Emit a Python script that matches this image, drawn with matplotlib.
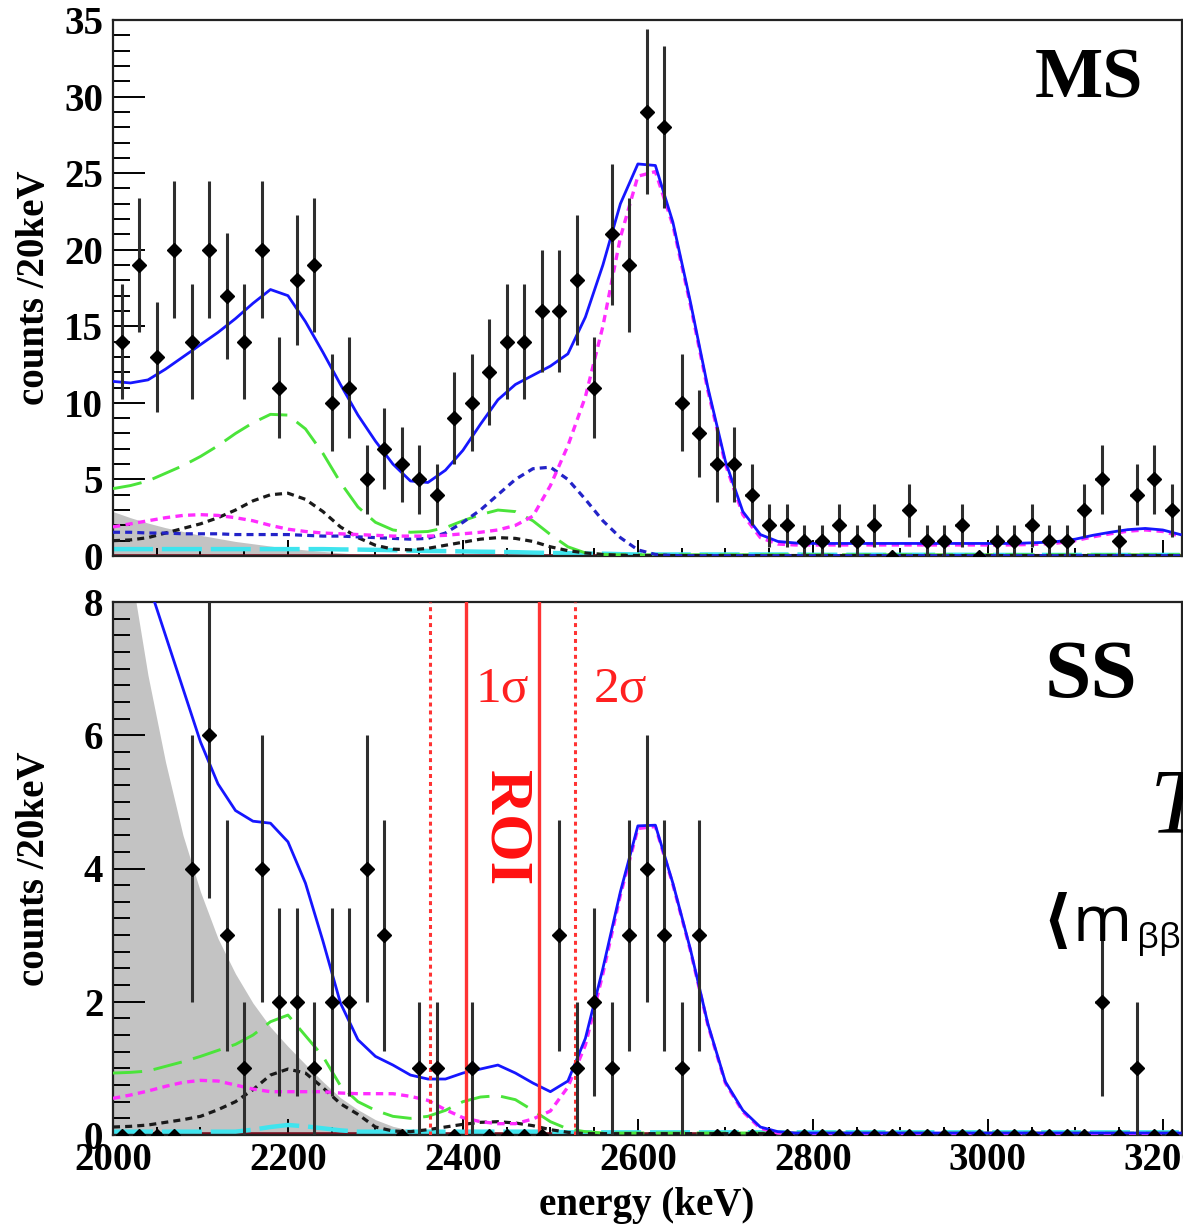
import numpy as np
import matplotlib
matplotlib.use("Agg")
import matplotlib.pyplot as plt
from matplotlib.ticker import MultipleLocator

# ---------------- data ----------------
bin_centers = list(range(2010, 3220, 20))          # 20 keV bins
ms_counts = [14, 19, 13, 20, 14, 20, 17, 14, 20, 11,
             18, 19, 10, 11, 5, 7, 6, 5, 4, 9,
             10, 12, 14, 14, 16, 16, 18, 11, 21, 19,
             29, 28, 10, 8, 6, 6, 4, 2, 2, 1,
             1, 2, 1, 2, 0, 3, 1, 1, 2, 0,
             1, 1, 2, 1, 1, 3, 5, 1, 4, 5, 3]
ss_counts = [0, 0, 0, 0, 4, 6, 3, 1, 4, 2,
             2, 1, 2, 2, 4, 3, 0, 1, 1, 0,
             1, 0, 0, 0, 0, 3, 1, 2, 1, 3,
             4, 3, 1, 3, 0, 0, 0, 0, 0, 0,
             0, 0, 0, 0, 0, 0, 0, 0, 0, 0,
             0, 0, 0, 0, 0, 0, 2, 0, 1, 0, 0]

fit_energy = list(range(2000, 3240, 20))           # fit curve nodes

# MS fit components
ms_total = [11.4, 11.3, 11.5, 12.2, 13.0, 13.8, 14.6, 15.5, 16.5, 17.4,
            17.0, 15.3, 13.3, 11.2, 9.2, 7.5, 6.0, 4.9, 4.8, 5.6,
            6.9, 8.6, 10.2, 11.2, 11.8, 12.4, 13.2, 15.6, 19.0, 23.0,
            25.6, 25.5, 21.8, 16.6, 11.0, 6.2, 2.9, 1.4, 0.95, 0.85,
            0.82, 0.82, 0.82, 0.82, 0.82, 0.82, 0.82, 0.82, 0.82, 0.82,
            0.82, 0.82, 0.84, 0.88, 0.95, 1.1, 1.35, 1.55, 1.72, 1.8,
            1.7, 1.4]
ms_tl208 = [1.9, 2.1, 2.3, 2.5, 2.65, 2.7, 2.65, 2.5, 2.3, 2.0,
            1.75, 1.6, 1.5, 1.45, 1.4, 1.35, 1.3, 1.3, 1.3, 1.35,
            1.45, 1.55, 1.7, 2.0, 2.6, 4.6, 7.2, 10.4, 15.0, 20.8,
            24.8, 25.1, 21.6, 16.4, 10.8, 6.0, 2.7, 1.2, 0.78, 0.72,
            0.72, 0.72, 0.72, 0.72, 0.72, 0.72, 0.72, 0.72, 0.72, 0.72,
            0.72, 0.72, 0.74, 0.78, 0.85, 1.0, 1.25, 1.45, 1.62, 1.7,
            1.6, 1.3]
ms_navy = [1.55, 1.55, 1.5, 1.5, 1.45, 1.45, 1.45, 1.4, 1.4, 1.4,
           1.4, 1.35, 1.3, 1.3, 1.25, 1.2, 1.15, 1.1, 1.15, 1.5,
           2.2, 3.0, 4.0, 5.0, 5.7, 5.8, 5.0, 3.7, 2.3, 1.2,
           0.4, 0.1, 0.03, 0.02, 0.02, 0.02, 0.02, 0.02, 0.02, 0.02,
           0.02, 0.02, 0.02, 0.02, 0.02, 0.02, 0.02, 0.02, 0.02, 0.02,
           0.02, 0.02, 0.02, 0.02, 0.02, 0.02, 0.02, 0.02, 0.02, 0.02,
           0.02, 0.02]
ms_black = [1.0, 1.05, 1.2, 1.5, 1.8, 2.1, 2.5, 3.0, 3.6, 4.0,
            4.1, 3.7, 2.9, 1.9, 1.2, 0.7, 0.45, 0.4, 0.5, 0.7,
            0.9, 1.1, 1.2, 1.15, 0.95, 0.6, 0.35, 0.2, 0.1, 0.05,
            0.03, 0.03, 0.03, 0.03, 0.03, 0.03, 0.03, 0.03, 0.03, 0.03,
            0.03, 0.03, 0.03, 0.03, 0.03, 0.03, 0.03, 0.03, 0.03, 0.03,
            0.03, 0.03, 0.03, 0.03, 0.03, 0.03, 0.03, 0.03, 0.03, 0.03,
            0.03, 0.03]
ms_green = [4.4, 4.6, 4.9, 5.4, 5.9, 6.5, 7.2, 8.0, 8.7, 9.25,
            9.2, 8.3, 6.7, 4.8, 3.2, 2.2, 1.7, 1.55, 1.6, 1.85,
            2.3, 2.7, 3.0, 2.9, 2.3, 1.4, 0.6, 0.2, 0.1, 0.08,
            0.08, 0.08, 0.08, 0.08, 0.08, 0.08, 0.08, 0.08, 0.08, 0.08,
            0.08, 0.08, 0.08, 0.08, 0.08, 0.08, 0.08, 0.08, 0.08, 0.08,
            0.08, 0.08, 0.08, 0.08, 0.08, 0.08, 0.08, 0.08, 0.08, 0.08,
            0.08, 0.08]
ms_cyan = [0.45, 0.45, 0.45, 0.45, 0.45, 0.45, 0.45, 0.45, 0.45, 0.45,
           0.45, 0.45, 0.45, 0.43, 0.42, 0.4, 0.38, 0.35, 0.33, 0.32,
           0.3, 0.28, 0.27, 0.25, 0.22, 0.2, 0.18, 0.16, 0.15, 0.12,
           0.1, 0.1, 0.1, 0.1, 0.1, 0.1, 0.1, 0.1, 0.1, 0.1,
           0.08, 0.08, 0.08, 0.08, 0.08, 0.08, 0.08, 0.08, 0.08, 0.08,
           0.07, 0.07, 0.07, 0.07, 0.07, 0.07, 0.07, 0.07, 0.07, 0.07,
           0.07, 0.07]
ms_gray = [2.9, 2.5, 2.15, 1.85, 1.6, 1.35, 1.15, 0.95, 0.8, 0.65,
           0.5, 0.4, 0.3, 0.2, 0.12, 0.05, 0.0, 0.0, 0.0, 0.0,
           0.0, 0.0, 0.0, 0.0, 0.0, 0.0, 0.0, 0.0, 0.0, 0.0,
           0.0, 0.0, 0.0, 0.0, 0.0, 0.0, 0.0, 0.0, 0.0, 0.0,
           0.0, 0.0, 0.0, 0.0, 0.0, 0.0, 0.0, 0.0, 0.0, 0.0,
           0.0, 0.0, 0.0, 0.0, 0.0, 0.0, 0.0, 0.0, 0.0, 0.0,
           0.0, 0.0]

# SS fit components
ss_total = [10.8, 9.4, 8.3, 7.5, 6.7, 5.9, 5.27, 4.87, 4.71, 4.68,
            4.4, 3.78, 2.91, 1.98, 1.43, 1.18, 1.05, 0.9, 0.84, 0.84,
            0.93, 0.99, 1.05, 0.93, 0.78, 0.65, 0.81, 1.45, 2.5, 3.65,
            4.64, 4.65, 3.78, 2.79, 1.67, 0.8, 0.37, 0.12, 0.05, 0.03,
            0.03, 0.03, 0.03, 0.03, 0.03, 0.03, 0.03, 0.03, 0.03, 0.03,
            0.03, 0.03, 0.03, 0.03, 0.03, 0.03, 0.03, 0.03, 0.03, 0.03,
            0.03, 0.03]
ss_tl208 = [0.55, 0.6, 0.66, 0.73, 0.79, 0.82, 0.81, 0.75, 0.69, 0.65,
            0.65, 0.65, 0.65, 0.63, 0.62, 0.62, 0.62, 0.58, 0.52, 0.38,
            0.26, 0.2, 0.17, 0.17, 0.24, 0.36, 0.72, 1.35, 2.42, 3.6,
            4.6, 4.63, 3.76, 2.77, 1.65, 0.78, 0.35, 0.1, 0.03, 0.02,
            0.02, 0.02, 0.02, 0.02, 0.02, 0.02, 0.02, 0.02, 0.02, 0.02,
            0.02, 0.02, 0.02, 0.02, 0.02, 0.02, 0.02, 0.02, 0.02, 0.02,
            0.02, 0.02]
ss_green = [0.93, 0.94, 0.96, 1.03, 1.1, 1.18, 1.27, 1.36, 1.5, 1.7,
            1.8, 1.49, 1.18, 0.74, 0.5, 0.37, 0.28, 0.25, 0.28, 0.37,
            0.5, 0.57, 0.59, 0.53, 0.37, 0.2, 0.09, 0.05, 0.03, 0.03,
            0.03, 0.03, 0.03, 0.03, 0.03, 0.03, 0.03, 0.03, 0.03, 0.03,
            0.03, 0.03, 0.03, 0.03, 0.03, 0.03, 0.03, 0.03, 0.03, 0.03,
            0.03, 0.03, 0.03, 0.03, 0.03, 0.03, 0.03, 0.03, 0.03, 0.03,
            0.03, 0.03]
ss_black = [0.12, 0.13, 0.15, 0.19, 0.23, 0.28, 0.38, 0.5, 0.68, 0.9,
            0.99, 0.93, 0.71, 0.47, 0.31, 0.12, 0.06, 0.05, 0.08, 0.12,
            0.16, 0.19, 0.2, 0.18, 0.14, 0.08, 0.04, 0.02, 0.02, 0.02,
            0.02, 0.02, 0.02, 0.02, 0.02, 0.02, 0.02, 0.02, 0.02, 0.02,
            0.02, 0.02, 0.02, 0.02, 0.02, 0.02, 0.02, 0.02, 0.02, 0.02,
            0.02, 0.02, 0.02, 0.02, 0.02, 0.02, 0.02, 0.02, 0.02, 0.02,
            0.02, 0.02]
ss_cyan = [0.05, 0.05, 0.05, 0.05, 0.05, 0.05, 0.05, 0.05, 0.08, 0.12,
           0.15, 0.13, 0.1, 0.07, 0.05, 0.05, 0.05, 0.05, 0.05, 0.05,
           0.05, 0.05, 0.05, 0.05, 0.05, 0.05, 0.04, 0.04, 0.04, 0.04,
           0.04, 0.04, 0.04, 0.04, 0.04, 0.04, 0.04, 0.04, 0.04, 0.04,
           0.04, 0.04, 0.04, 0.04, 0.04, 0.04, 0.04, 0.04, 0.04, 0.04,
           0.04, 0.04, 0.04, 0.04, 0.04, 0.04, 0.04, 0.04, 0.04, 0.04,
           0.04, 0.04]
ss_gray = [10.6, 8.5, 6.9, 5.6, 4.5, 3.65, 2.95, 2.42, 1.98, 1.62,
           1.33, 1.06, 0.8, 0.56, 0.38, 0.23, 0.13, 0.07, 0.03, 0.0,
           0.0, 0.0, 0.0, 0.0, 0.0, 0.0, 0.0, 0.0, 0.0, 0.0,
           0.0, 0.0, 0.0, 0.0, 0.0, 0.0, 0.0, 0.0, 0.0, 0.0,
           0.0, 0.0, 0.0, 0.0, 0.0, 0.0, 0.0, 0.0, 0.0, 0.0,
           0.0, 0.0, 0.0, 0.0, 0.0, 0.0, 0.0, 0.0, 0.0, 0.0,
           0.0, 0.0]
# near-zero component drawn as dark red baseline
maroon_comp = [0.02, 0.02, 0.02, 0.02, 0.02, 0.02, 0.02, 0.02, 0.02, 0.02,
               0.02, 0.02, 0.02, 0.02, 0.02, 0.02, 0.02, 0.02, 0.02, 0.02,
               0.02, 0.02, 0.02, 0.02, 0.02, 0.02, 0.02, 0.02, 0.02, 0.02,
               0.02, 0.02, 0.02, 0.02, 0.02, 0.02, 0.02, 0.02, 0.02, 0.02,
               0.02, 0.02, 0.02, 0.02, 0.02, 0.02, 0.02, 0.02, 0.02, 0.02,
               0.02, 0.02, 0.02, 0.02, 0.02, 0.02, 0.02, 0.02, 0.02, 0.02,
               0.02, 0.02]

roi_1sigma = [2404, 2487]
roi_2sigma = [2362, 2528]

# ---------------- style ----------------
plt.rcParams["font.family"] = ["Liberation Serif", "DejaVu Serif"]
plt.rcParams["font.weight"] = "bold"
plt.rcParams["font.size"] = 28

W, H = 1183, 1224
fig = plt.figure(figsize=(W / 100, H / 100), dpi=100)


def px_rect(l, t, r, b):
    return [l / W, 1 - b / H, (r - l) / W, (b - t) / H]


ax1 = fig.add_axes(px_rect(113, 20, 1182, 556))
ax2 = fig.add_axes(px_rect(113, 602, 1182, 1135))


def draw_panel(ax, gray, total, tl, navy, black, green, cyan, counts, ymax, ymaj, ymin):
    ax.fill_between(fit_energy, 0, gray, color="#c3c3c3", lw=0, zorder=1)
    ax.plot(fit_energy, maroon_comp, color="#7a1020", lw=2.6, zorder=2)
    ax.plot(fit_energy, cyan, color="#3fe4ee", lw=3.2, ls=(0, (9, 2)), zorder=2)
    ax.plot(fit_energy, green, color="#4be43a", lw=2.1, ls=(0, (10, 4)), zorder=3)
    ax.plot(fit_energy, black, color="#1a1a1a", lw=2.3, ls=(0, (2.2, 1.6)), zorder=3)
    if navy is not None:
        ax.plot(fit_energy, navy, color="#2323c8", lw=2.3, ls=(0, (2.2, 1.6)), zorder=3)
    ax.plot(fit_energy, tl, color="#ff2cff", lw=2.4, ls=(0, (2.2, 1.6)), zorder=3)
    ax.plot(fit_energy, total, color="#1616ff", lw=2.0, zorder=4)

    x = np.array(bin_centers, dtype=float)
    y = np.array(counts, dtype=float)
    nz = y > 0
    ax.errorbar(x[nz], y[nz], yerr=np.sqrt(y[nz]), xerr=7, fmt="D", ms=7,
                color="black", ecolor="#2e2e2e", elinewidth=2.2, capsize=0, zorder=6)
    ax.plot(x[~nz], y[~nz], "D", ms=6, color="black", zorder=6)

    ax.set_xlim(2000, 3222)
    ax.set_ylim(0, ymax)
    ax.xaxis.set_major_locator(MultipleLocator(200))
    ax.xaxis.set_minor_locator(MultipleLocator(50))
    ax.yaxis.set_major_locator(MultipleLocator(ymaj))
    ax.yaxis.set_minor_locator(MultipleLocator(ymin))
    ax.tick_params(which="both", direction="in", top=False, right=False,
                   width=1.4, color="black")
    ax.tick_params(axis="x", which="major", length=11.5, pad=5, labelsize=28)
    ax.tick_params(axis="x", which="minor", length=5.5)
    ax.tick_params(axis="y", which="major", length=23, pad=7, labelsize=28)
    ax.tick_params(axis="y", which="minor", length=12)
    for s in ax.spines.values():
        s.set_linewidth(1.6)
        s.set_color("#222222")


draw_panel(ax1, ms_gray, ms_total, ms_tl208, ms_navy, ms_black, ms_green, ms_cyan,
           ms_counts, 35, 5, 1)
draw_panel(ax2, ss_gray, ss_total, ss_tl208, None, ss_black, ss_green, ss_cyan,
           ss_counts, 8, 2, 0.25)
ax1.tick_params(labelbottom=False)

# ROI lines
for e in roi_1sigma:
    ax2.axvline(e, color="#ff3333", lw=2.4, zorder=5)
for e in roi_2sigma:
    ax2.axvline(e, color="#ff3333", lw=2.2, ls=(0, (1.3, 1.3)), zorder=5)
ax2.text(sum(roi_1sigma) / 2, 6.5, "1σ", color="#ff2020", fontsize=37,
         fontweight="normal", ha="center", va="baseline", zorder=7)
ax2.text(2580, 6.5, "2σ", color="#ff2020", fontsize=37,
         fontweight="normal", ha="center", va="baseline", zorder=7)
ax2.text(2449, 4.62, "ROI", color="#ff1010", fontsize=44, fontweight="bold",
         rotation=270, ha="center", va="center", zorder=7)

# labels
fig.text(35 / W, 1 - 288 / H, "counts /20keV", rotation=90, ha="center",
         va="center", fontsize=28, fontweight="bold")
fig.text(35 / W, 1 - 869 / H, "counts /20keV", rotation=90, ha="center",
         va="center", fontsize=28, fontweight="bold")
fig.text(647 / W, 1 - 1215 / H, "energy (keV)", ha="center", va="baseline",
         fontsize=28, fontweight="bold")
fig.text(1143 / W, 1 - 98 / H, "MS", ha="right", va="baseline", fontsize=52,
         fontweight="bold")
fig.text(1137 / W, 1 - 697 / H, "SS", ha="right", va="baseline", fontsize=60,
         fontweight="bold")

# overlay text (cropped on the right in the original)
fig.text(1150 / W, 1 - 832 / H, "T", ha="left", va="baseline", fontsize=68,
         fontstyle="italic", fontweight="normal", family=["Liberation Serif"])
fig.text(1042 / W, 1 - 941 / H, "⟨", ha="left", va="baseline", fontsize=46,
         fontweight="bold", family=["DejaVu Sans"])
fig.text(1073 / W, 1 - 941 / H, "m", ha="left", va="baseline", fontsize=46,
         fontweight="normal", family=["Open Sans", "DejaVu Sans"])
fig.text(1137 / W, 1 - 948 / H, "ββ", ha="left", va="baseline", fontsize=25,
         fontweight="normal", family=["Open Sans", "DejaVu Sans"])

fig.savefig("out.png", dpi=100)
